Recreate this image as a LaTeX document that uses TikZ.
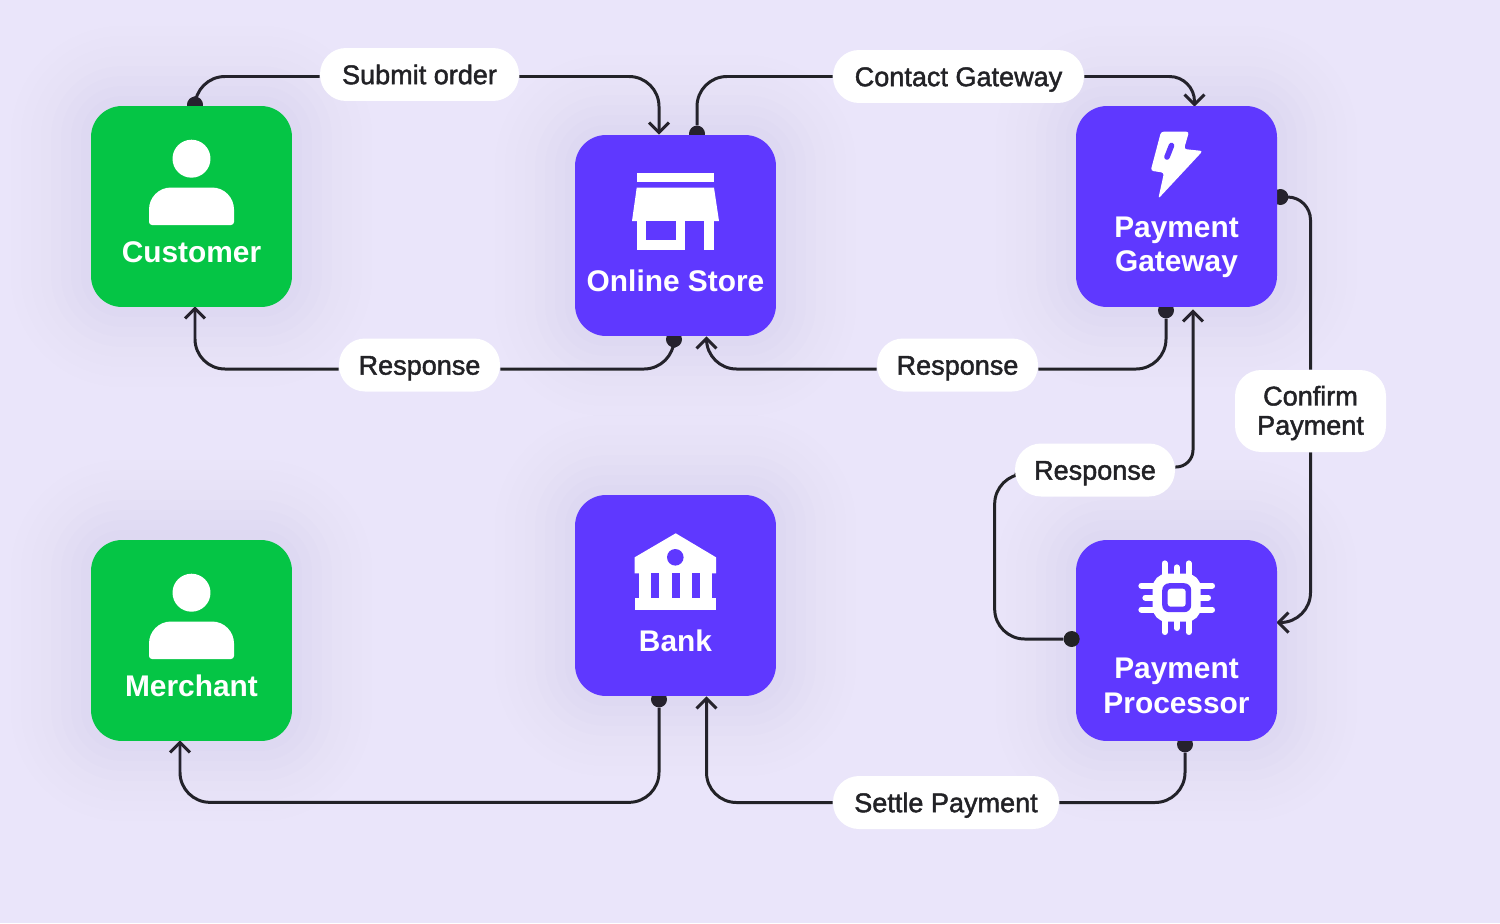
\documentclass[tikz,border=0pt]{standalone}
\usepackage{xcolor}
\usepackage{fontspec}
\setmainfont{Liberation Sans}
\newfontfamily\pillfont[FakeBold=1.6]{Liberation Sans}
\usetikzlibrary{arrows.meta,backgrounds}

\definecolor{ink}{HTML}{222226}
\definecolor{paper}{HTML}{EAE5FA}
\definecolor{grass}{HTML}{05C545}
\definecolor{violet}{HTML}{5F38FF}
\definecolor{halo}{HTML}{8075B0}

\tikzset{
  >={Straight Barb[length=5.7pt,width=11.4pt]},
  softhalo/.style={
    preaction={draw=halo,draw opacity=0.008,line width=3.2cm},
    preaction={draw=halo,draw opacity=0.008,line width=2.8cm},
    preaction={draw=halo,draw opacity=0.009,line width=2.4cm},
    preaction={draw=halo,draw opacity=0.009,line width=2cm},
    preaction={draw=halo,draw opacity=0.01,line width=1.6cm},
    preaction={draw=halo,draw opacity=0.01,line width=1.2cm},
    preaction={draw=halo,draw opacity=0.012,line width=0.8cm},
    preaction={draw=halo,draw opacity=0.012,line width=0.4cm}},
  card/.style={softhalo,rectangle,rounded corners=0.62cm,minimum size=4.02cm,inner sep=0pt},
  cardtext/.style={text=white,align=center,inner sep=0pt,font=\fontsize{17}{19.7}\selectfont\bfseries},
  pill/.style={fill=white,text=ink,rectangle,rounded corners=0.52cm,align=center,inner sep=0pt,
    minimum height=1.06cm,minimum width=#1,font=\fontsize{15.4}{16.6}\selectfont\pillfont},
  oneline/.style={text height=13pt,text depth=2pt},
  dot/.style={circle,fill=ink,minimum size=0.32cm,inner sep=0pt},
  link/.style={draw=ink,line width=1.7pt,rounded corners=0.6cm},
  upover/.style={to path={|- (\tikztotarget)}},
  overup/.style={to path={-| (\tikztotarget)}},
}

\newcommand{\personicon}[1]{
  \begin{scope}[shift={(#1)}]
    \fill[white] (0,-47.8) circle [radius=0.38cm];
    \fill[white] [rounded corners=0.06cm] (-42.5,18.5) -- (42.5,18.5)
      [rounded corners=0.44cm] -- (42.5,-19) -- (-42.5,-19)
      [rounded corners=0.06cm] -- cycle;
  \end{scope}
}

\begin{document}
\begin{tikzpicture}[x=0.02cm,y=-0.02cm]
\useasboundingbox (0,0) rectangle (1500,923);

\node[card,fill=grass] (customer) at (191.5,206.5) {};
\node[card,fill=violet] (store) at (675.5,235.5) {};
\node[card,fill=violet] (gateway) at (1176.5,206.5) {};
\node[card,fill=grass] (merchant) at (191.5,640.5) {};
\node[card,fill=violet] (bank) at (675.5,595.5) {};
\node[card,fill=violet] (processor) at (1176.5,640.5) {};

\node[cardtext] (customertext) at (191.5,252) {Customer};
\node[cardtext] (storetext) at (675.5,281) {Online Store};
\node[cardtext] (gatewaytext) at (1176.5,247.5) {Payment\\Gateway};
\node[cardtext] (merchanttext) at (191.5,686) {Merchant};
\node[cardtext] (banktext) at (675.5,641) {Bank};
\node[cardtext] (processortext) at (1176.5,686) {Payment\\Processor};

\node[pill=3.98cm,oneline] (submit) at (419.5,74.5) {Submit order};
\node[pill=5.02cm,oneline] (contact) at (958.5,76.5) {Contact Gateway};
\node[pill=3.22cm,oneline] (respcustomer) at (419.5,365) {Response};
\node[pill=3.22cm,oneline] (respstore) at (957.5,365) {Response};
\node[pill=3.2cm,oneline] (respgateway) at (1095,470) {Response};
\node[pill=3.02cm,minimum height=1.64cm] (confirm) at (1310.5,411) {\rule{0pt}{13.5pt}Confirm\\Payment};
\node[pill=4.52cm,oneline] (settle) at (946,802.5) {Settle Payment};

% icons
\personicon{customer.center}
\personicon{merchant.center}

\fill[white] (636.7,172.7) rectangle (714,182.3);
\fill[white] (636.7,187.7) -- (714,187.7) -- (719,221) -- (632,221) -- cycle;
\fill[white] (636.7,221) rectangle (714,250);
\fill[violet] (646.3,221) rectangle (675.7,240.3);
\fill[violet] (685,221) rectangle (704.3,250);

\fill[white,rounded corners=1.5pt] (1161,131.7) -- (1189,131.7) -- (1184,149) -- (1202.7,151)
  -- (1158.3,198.7) -- (1164,172.7) -- (1150.7,170.7) -- cycle;
\draw[violet,line width=3.2pt,line cap=round] (1171.5,145.5) -- (1167,157);

\fill[white] (675.7,533.3) -- (716,557.3) -- (716,573.3) -- (634.7,573.3) -- (634.7,557.3) -- cycle;
\fill[violet] (675.3,557.3) circle [radius=0.166cm];
\fill[white] (638.7,573.3) rectangle (712.3,598.3);
\fill[violet] (651,573.3) rectangle (659,598.3);
\fill[violet] (671.7,573.3) rectangle (679.7,598.3);
\fill[violet] (692,573.3) rectangle (700,598.3);
\fill[white] (634.7,598.3) rectangle (716,610.3);

\begin{scope}[shift={(1176.7,597.7)}]
  \draw[white,line width=3.2pt,line cap=round]
    (-12,-34.5) -- (-12,-20) (0,-30.5) -- (0,-20) (12,-34.5) -- (12,-20)
    (-12,34.5) -- (-12,20) (0,30.5) -- (0,20) (12,34.5) -- (12,20)
    (-35.5,-12) -- (-20,-12) (-31.5,0) -- (-20,0) (-35.5,12) -- (-20,12)
    (35.5,-12) -- (20,-12) (31.5,0) -- (20,0) (35.5,12) -- (20,12);
  \fill[white,rounded corners=0.28cm] (-24,-24) rectangle (24,24);
  \fill[violet,rounded corners=0.14cm] (-14.5,-14.5) rectangle (14.5,14.5);
  \fill[white,rounded corners=0.06cm] (-9,-9) rectangle (9,9);
\end{scope}

% connectors
\begin{scope}[on background layer]
\fill[paper] (0,0) rectangle (1500,923);

\node[dot] (dotcustomer) at ([shift={(3.5,-1)}]customer.north) {};
\node[dot] (dotstoretop) at ([shift={(21.5,-1)}]store.north) {};
\node[dot] (dotstorebottom) at ([shift={(-1.5,3)}]store.south) {};
\node[dot] (dotgatewaybottom) at ([shift={(-10.5,3)}]gateway.south) {};
\node[dot] (dotgatewayright) at ([shift={(3,-9.5)}]gateway.east) {};
\node[dot] (dotprocessorbottom) at ([shift={(8.5,3)}]processor.south) {};
\node[dot] (dotbank) at ([shift={(-16.5,3)}]bank.south) {};

\path (dotcustomer) edge [link,upover] ([shift={(0,2)}]submit.west);
\path ([shift={(0,2)}]submit.east) edge [link,->,overup] ([shift={(-16.5,0)}]store.north);
\path (dotstoretop) edge [link,upover] (contact.west);
\path (contact.east) edge [link,->,rounded corners=0.5cm,overup] ([shift={(18,1)}]gateway.north);
\path (dotgatewaybottom) edge [link,upover] ([shift={(0,4)}]respstore.east);
\path ([shift={(0,4)}]respstore.west) edge [link,->,overup] ([shift={(31,0)}]store.south);
\path (dotstorebottom) edge [link,upover] ([shift={(0,4)}]respcustomer.east);
\path ([shift={(0,4)}]respcustomer.west) edge [link,->,overup] ([shift={(3.5,-1)}]customer.south);
\path (dotgatewayright) edge [link,rounded corners=0.46cm,overup] (confirm.north);
\path (confirm.south) edge [link,->,upover] ([shift={(-1,-18)}]processor.east);
\path ([shift={(0,-3)}]respgateway.east) edge [link,->,rounded corners=0.34cm,overup] ([shift={(16.5,2)}]gateway.south);
\path (dotprocessorbottom) edge [link,upover] (settle.east);
\path (settle.west) edge [link,->,overup] ([shift={(31,0)}]bank.south);
\draw[link,->] (dotbank) -- ++(0,103) -| ([shift={(-11.5,-1)}]merchant.south);
\end{scope}

\node[dot] (dotprocessorleft) at ([shift={(-4,-1.5)}]processor.west) {};
\begin{scope}[on background layer]
\draw[link] (dotprocessorleft) -| ([shift={(-20,4)}]respgateway.west) -- ([shift={(0,4)}]respgateway.west);
\end{scope}

\end{tikzpicture}
\end{document}
